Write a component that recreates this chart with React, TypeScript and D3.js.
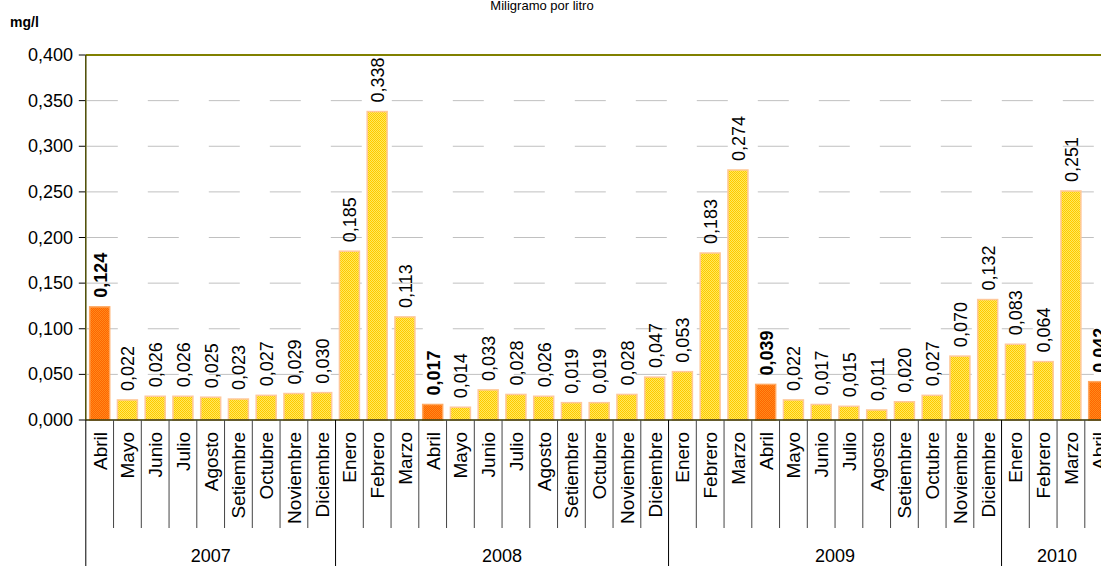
import { useEffect, useRef } from 'react'
import * as d3 from 'd3'

const years = ['2007', '2008', '2009', '2010']
const monthsByYear = [
  ['Abril', 'Mayo', 'Junio', 'Julio', 'Agosto', 'Setiembre', 'Octubre', 'Noviembre', 'Diciembre'],
  ['Enero', 'Febrero', 'Marzo', 'Abril', 'Mayo', 'Junio', 'Julio', 'Agosto', 'Setiembre', 'Octubre', 'Noviembre', 'Diciembre'],
  ['Enero', 'Febrero', 'Marzo', 'Abril', 'Mayo', 'Junio', 'Julio', 'Agosto', 'Setiembre', 'Octubre', 'Noviembre', 'Diciembre'],
  ['Enero', 'Febrero', 'Marzo', 'Abril'],
]
const valuesByYear = [
  [0.124, 0.022, 0.026, 0.026, 0.025, 0.023, 0.027, 0.029, 0.030],
  [0.185, 0.338, 0.113, 0.017, 0.014, 0.033, 0.028, 0.026, 0.019, 0.019, 0.028, 0.047],
  [0.053, 0.183, 0.274, 0.039, 0.022, 0.017, 0.015, 0.011, 0.020, 0.027, 0.070, 0.132],
  [0.083, 0.064, 0.251, 0.042],
]
const yTicks = [0, 0.05, 0.1, 0.15, 0.2, 0.25, 0.3, 0.35, 0.4]

const W = 1101
const H = 566
const FONT = '"Liberation Sans", Arial, sans-serif'

export default function App() {
  const ref = useRef<SVGSVGElement | null>(null)

  useEffect(() => {
    const svg = d3.select(ref.current)
    svg.selectAll('*').remove()

    // flatten months
    const rows: { key: string; year: string; month: string; value: number }[] = []
    years.forEach((yr, yi) => {
      monthsByYear[yi].forEach((m, mi) => {
        rows.push({ key: `${yr}-${mi}`, year: yr, month: m, value: valuesByYear[yi][mi] })
      })
    })

    const left = 85.8
    const top = 55
    const bottom = 420
    const band = 27.75
    const x = d3.scaleBand().domain(rows.map(d => d.key))
      .range([left, left + band * rows.length]).paddingInner(0.28).paddingOuter(0.14)
    const step = x.step()
    const y = d3.scaleLinear().domain([0, 0.4]).range([bottom, top])
    const fmt = (v: number) => d3.format('.3f')(v).replace('.', ',')
    const isApr = (d: { month: string }) => d.month === 'Abril'

    const defs = svg.append('defs')
    const pat = (id: string, a: string, b: string) => {
      const p = defs.append('pattern').attr('id', id).attr('width', 2).attr('height', 2).attr('patternUnits', 'userSpaceOnUse')
      p.append('rect').attr('width', 2).attr('height', 2).attr('fill', a)
      p.append('rect').attr('width', 1).attr('height', 1).attr('fill', b)
      p.append('rect').attr('x', 1).attr('y', 1).attr('width', 1).attr('height', 1).attr('fill', b)
    }
    pat('pYellow', '#ffea5c', '#ffc800')
    pat('pOrange', '#ff6400', '#ff8a1a')

    // title
    svg.append('text').attr('x', 542).attr('y', 10).attr('text-anchor', 'middle')
      .style('font-family', FONT).style('font-size', '13px').text('Miligramo por litro')
    svg.append('text').attr('x', 10).attr('y', 27)
      .style('font-family', FONT).style('font-size', '14px').style('font-weight', 'bold').text('mg/l')

    // grid
    svg.append('g').selectAll('line').data(yTicks.filter(t => t > 0 && t < 0.4)).enter().append('line')
      .attr('x1', left + 1).attr('x2', W).attr('y1', d => y(d)).attr('y2', d => y(d))
      .attr('stroke', '#c0c0c0').attr('stroke-width', 1).attr('stroke-dasharray', '31,30')

    // y axis
    const ya = svg.append('g')
    ya.selectAll('line').data(yTicks).enter().append('line')
      .attr('x1', left - 7).attr('x2', left).attr('y1', d => y(d)).attr('y2', d => y(d)).attr('stroke', '#000')
    ya.selectAll('text').data(yTicks).enter().append('text')
      .attr('x', 73).attr('y', d => y(d) + 6).attr('text-anchor', 'end')
      .style('font-family', FONT).style('font-size', '18px').text(d => fmt(d))

    // bars
    svg.append('g').selectAll('rect').data(rows).enter().append('rect')
      .attr('x', d => x(d.key)!).attr('width', x.bandwidth())
      .attr('y', d => y(d.value)).attr('height', d => bottom - y(d.value))
      .attr('fill', d => isApr(d) ? 'url(#pOrange)' : 'url(#pYellow)')
      .attr('stroke', d => isApr(d) ? '#ffa860' : '#ffc89a').attr('stroke-width', 1.5)

    // value labels
    svg.append('g').selectAll('text').data(rows).enter().append('text')
      .attr('transform', d => `translate(${x(d.key)! + x.bandwidth() / 2 + 7},${y(d.value) - 9}) rotate(-90)`)
      .style('font-family', FONT).style('font-size', '18px')
      .style('font-weight', d => isApr(d) ? 'bold' : 'normal')
      .text(d => fmt(d.value))

    // top border + axes
    svg.append('line').attr('x1', left).attr('x2', W).attr('y1', top).attr('y2', top).attr('stroke', '#808000').attr('stroke-width', 2)
    svg.append('line').attr('x1', left).attr('x2', left).attr('y1', top).attr('y2', bottom).attr('stroke', '#4a4a00').attr('stroke-width', 1.5)
    svg.append('line').attr('x1', left).attr('x2', W).attr('y1', bottom).attr('y2', bottom).attr('stroke', '#333300').attr('stroke-width', 1.5)

    // category axis: month separators + labels, year groups
    const cat = svg.append('g')
    const start = (i: number) => left + step * i
    let idx = 0
    const yearBounds: number[] = [0]
    monthsByYear.forEach(ms => { idx += ms.length; yearBounds.push(idx) })
    d3.range(rows.length + 1).forEach(i => {
      const isYear = yearBounds.includes(i)
      cat.append('line').attr('x1', start(i)).attr('x2', start(i)).attr('y1', bottom)
        .attr('y2', isYear ? H : 528).attr('stroke', isYear ? '#000' : '#444').attr('stroke-width', 1)
    })
    cat.selectAll('text.m').data(rows).enter().append('text').attr('class', 'm')
      .attr('transform', d => `translate(${x(d.key)! + x.bandwidth() / 2 + 7},432) rotate(-90)`)
      .attr('text-anchor', 'end')
      .style('font-family', FONT).style('font-size', '19px').text(d => d.month)
    cat.selectAll('text.y').data(years).enter().append('text').attr('class', 'y')
      .attr('x', (d, i) => (start(yearBounds[i]) + start(yearBounds[i + 1])) / 2).attr('y', 562)
      .attr('text-anchor', 'middle').style('font-family', FONT).style('font-size', '18px').text(d => d)
  }, [])

  return <svg ref={ref} width={W} height={H} style={{ position: 'absolute', left: 0, top: 0, background: '#fff' }} />
}
